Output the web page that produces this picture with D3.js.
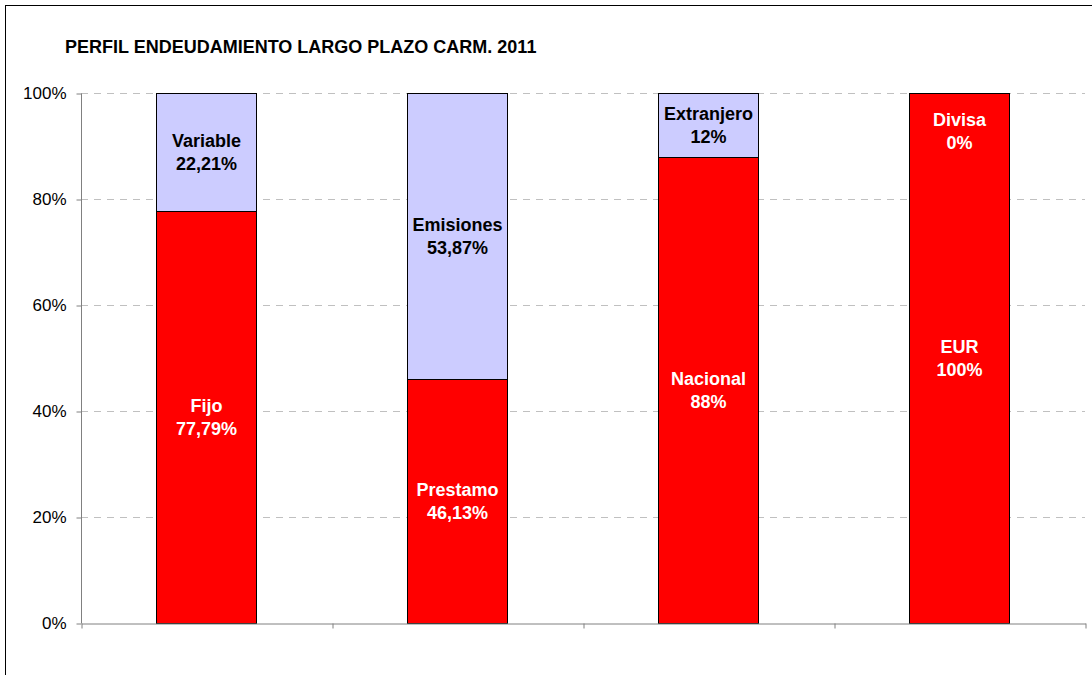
<!DOCTYPE html>
<html>
<head>
<meta charset="utf-8">
<script src="https://cdn.jsdelivr.net/npm/d3@7"></script>
<style>
  html, body { margin: 0; padding: 0; background: #fff; }
  svg { display: block; font-family: "Liberation Sans", Arial, sans-serif; }
</style>
</head>
<body>
<svg id="chart" width="1092" height="675"></svg>
<script>
const title = "PERFIL ENDEUDAMIENTO LARGO PLAZO CARM. 2011";
const categories = ["Tipo", "Instrumento", "Origen", "Moneda"];
const bottomNames = ["Fijo", "Prestamo", "Nacional", "EUR"];
const bottomValues = [77.79, 46.13, 88, 100];
const bottomLabels = ["77,79%", "46,13%", "88%", "100%"];
const topNames = ["Variable", "Emisiones", "Extranjero", "Divisa"];
const topValues = [22.21, 53.87, 12, 0];
const topLabels = ["22,21%", "53,87%", "12%", "0%"];
const yTicks = [0, 20, 40, 60, 80, 100];

const svg = d3.select("#chart");
const W = 1092, H = 675;
const plot = { left: 81, right: 1085, top: 93, bottom: 623 };

// outer chart border
svg.append("rect")
  .attr("x", 5.5).attr("y", 5.5)
  .attr("width", W).attr("height", H)
  .attr("fill", "#fff").attr("stroke", "#000").attr("stroke-width", 1);

svg.append("text")
  .attr("x", 65).attr("y", 53)
  .attr("font-size", 18).attr("font-weight", "bold")
  .attr("fill", "#000")
  .text(title);

const x = d3.scaleBand().domain(categories)
  .range([plot.left, plot.right])
  .paddingInner(0.6).paddingOuter(0.3);
const xEdges = d3.scaleLinear().domain([0, categories.length]).range([plot.left, plot.right]);
const y = d3.scaleLinear().domain([0, 100]).range([plot.bottom, plot.top]);

// gridlines
svg.append("g")
  .selectAll("line")
  .data(yTicks.filter(d => d > 0))
  .join("line")
  .attr("x1", plot.left).attr("x2", plot.right)
  .attr("y1", d => Math.round(y(d)) + 0.5).attr("y2", d => Math.round(y(d)) + 0.5)
  .attr("stroke", "#c0c0c0").attr("stroke-width", 1)
  .attr("stroke-dasharray", "7,6");

// bars
const rows = categories.map((c, i) => ({
  cat: c,
  segs: [
    { name: bottomNames[i], label: bottomLabels[i], y0: 0, y1: bottomValues[i], fill: "#ff0000", text: "#fff" },
    { name: topNames[i], label: topLabels[i], y0: bottomValues[i], y1: bottomValues[i] + topValues[i], fill: "#ccccff", text: topValues[i] > 0 ? "#000" : "#fff" }
  ]
}));

const gBars = svg.append("g");
rows.forEach(r => {
  r.segs.forEach(s => {
    if (s.y1 - s.y0 <= 0) return;
    gBars.append("rect")
      .attr("x", Math.round(x(r.cat)) + 0.5)
      .attr("y", Math.round(y(s.y1)) + 0.5)
      .attr("width", Math.round(x.bandwidth()))
      .attr("height", Math.round(y(s.y0)) - Math.round(y(s.y1)))
      .attr("fill", s.fill).attr("stroke", "#000").attr("stroke-width", 1);
  });
});

// axes
const yAxis = d3.axisLeft(y).tickValues(yTicks).tickFormat(d => d + "%").tickSize(5).tickPadding(10);
const gy = svg.append("g").attr("transform", `translate(${plot.left + 0.5},0.5)`).call(yAxis);
gy.select(".domain").attr("stroke", "#808080").attr("d", `M0,${plot.top}V${plot.bottom}`);
gy.selectAll(".tick line").attr("stroke", "#808080");
gy.selectAll(".tick text").attr("font-size", 17).attr("fill", "#000")
  .attr("font-family", "'Liberation Sans', Arial, sans-serif");

const xAxis = d3.axisBottom(xEdges).tickValues(d3.range(categories.length + 1)).tickFormat("").tickSize(5).tickSizeOuter(0);
const gx = svg.append("g").attr("transform", `translate(0.5,${plot.bottom + 0.5})`).call(xAxis);
gx.select(".domain").attr("stroke", "#808080");
gx.selectAll(".tick line").attr("stroke", "#808080");

// labels
const gLab = svg.append("g").attr("font-size", 18).attr("font-weight", "bold").attr("text-anchor", "middle");
rows.forEach(r => {
  r.segs.forEach(s => {
    const h = y(s.y0) - y(s.y1);
    const cy = h < 20 ? y(100) + 38 : (y(s.y0) + y(s.y1)) / 2;
    const cx = x(r.cat) + x.bandwidth() / 2;
    const t = gLab.append("text").attr("fill", s.text);
    t.append("tspan").attr("x", cx).attr("y", cy - 11.5).attr("dy", "0.35em").text(s.name);
    t.append("tspan").attr("x", cx).attr("y", cy + 11.5).attr("dy", "0.35em").text(s.label);
  });
});
</script>
</body>
</html>
